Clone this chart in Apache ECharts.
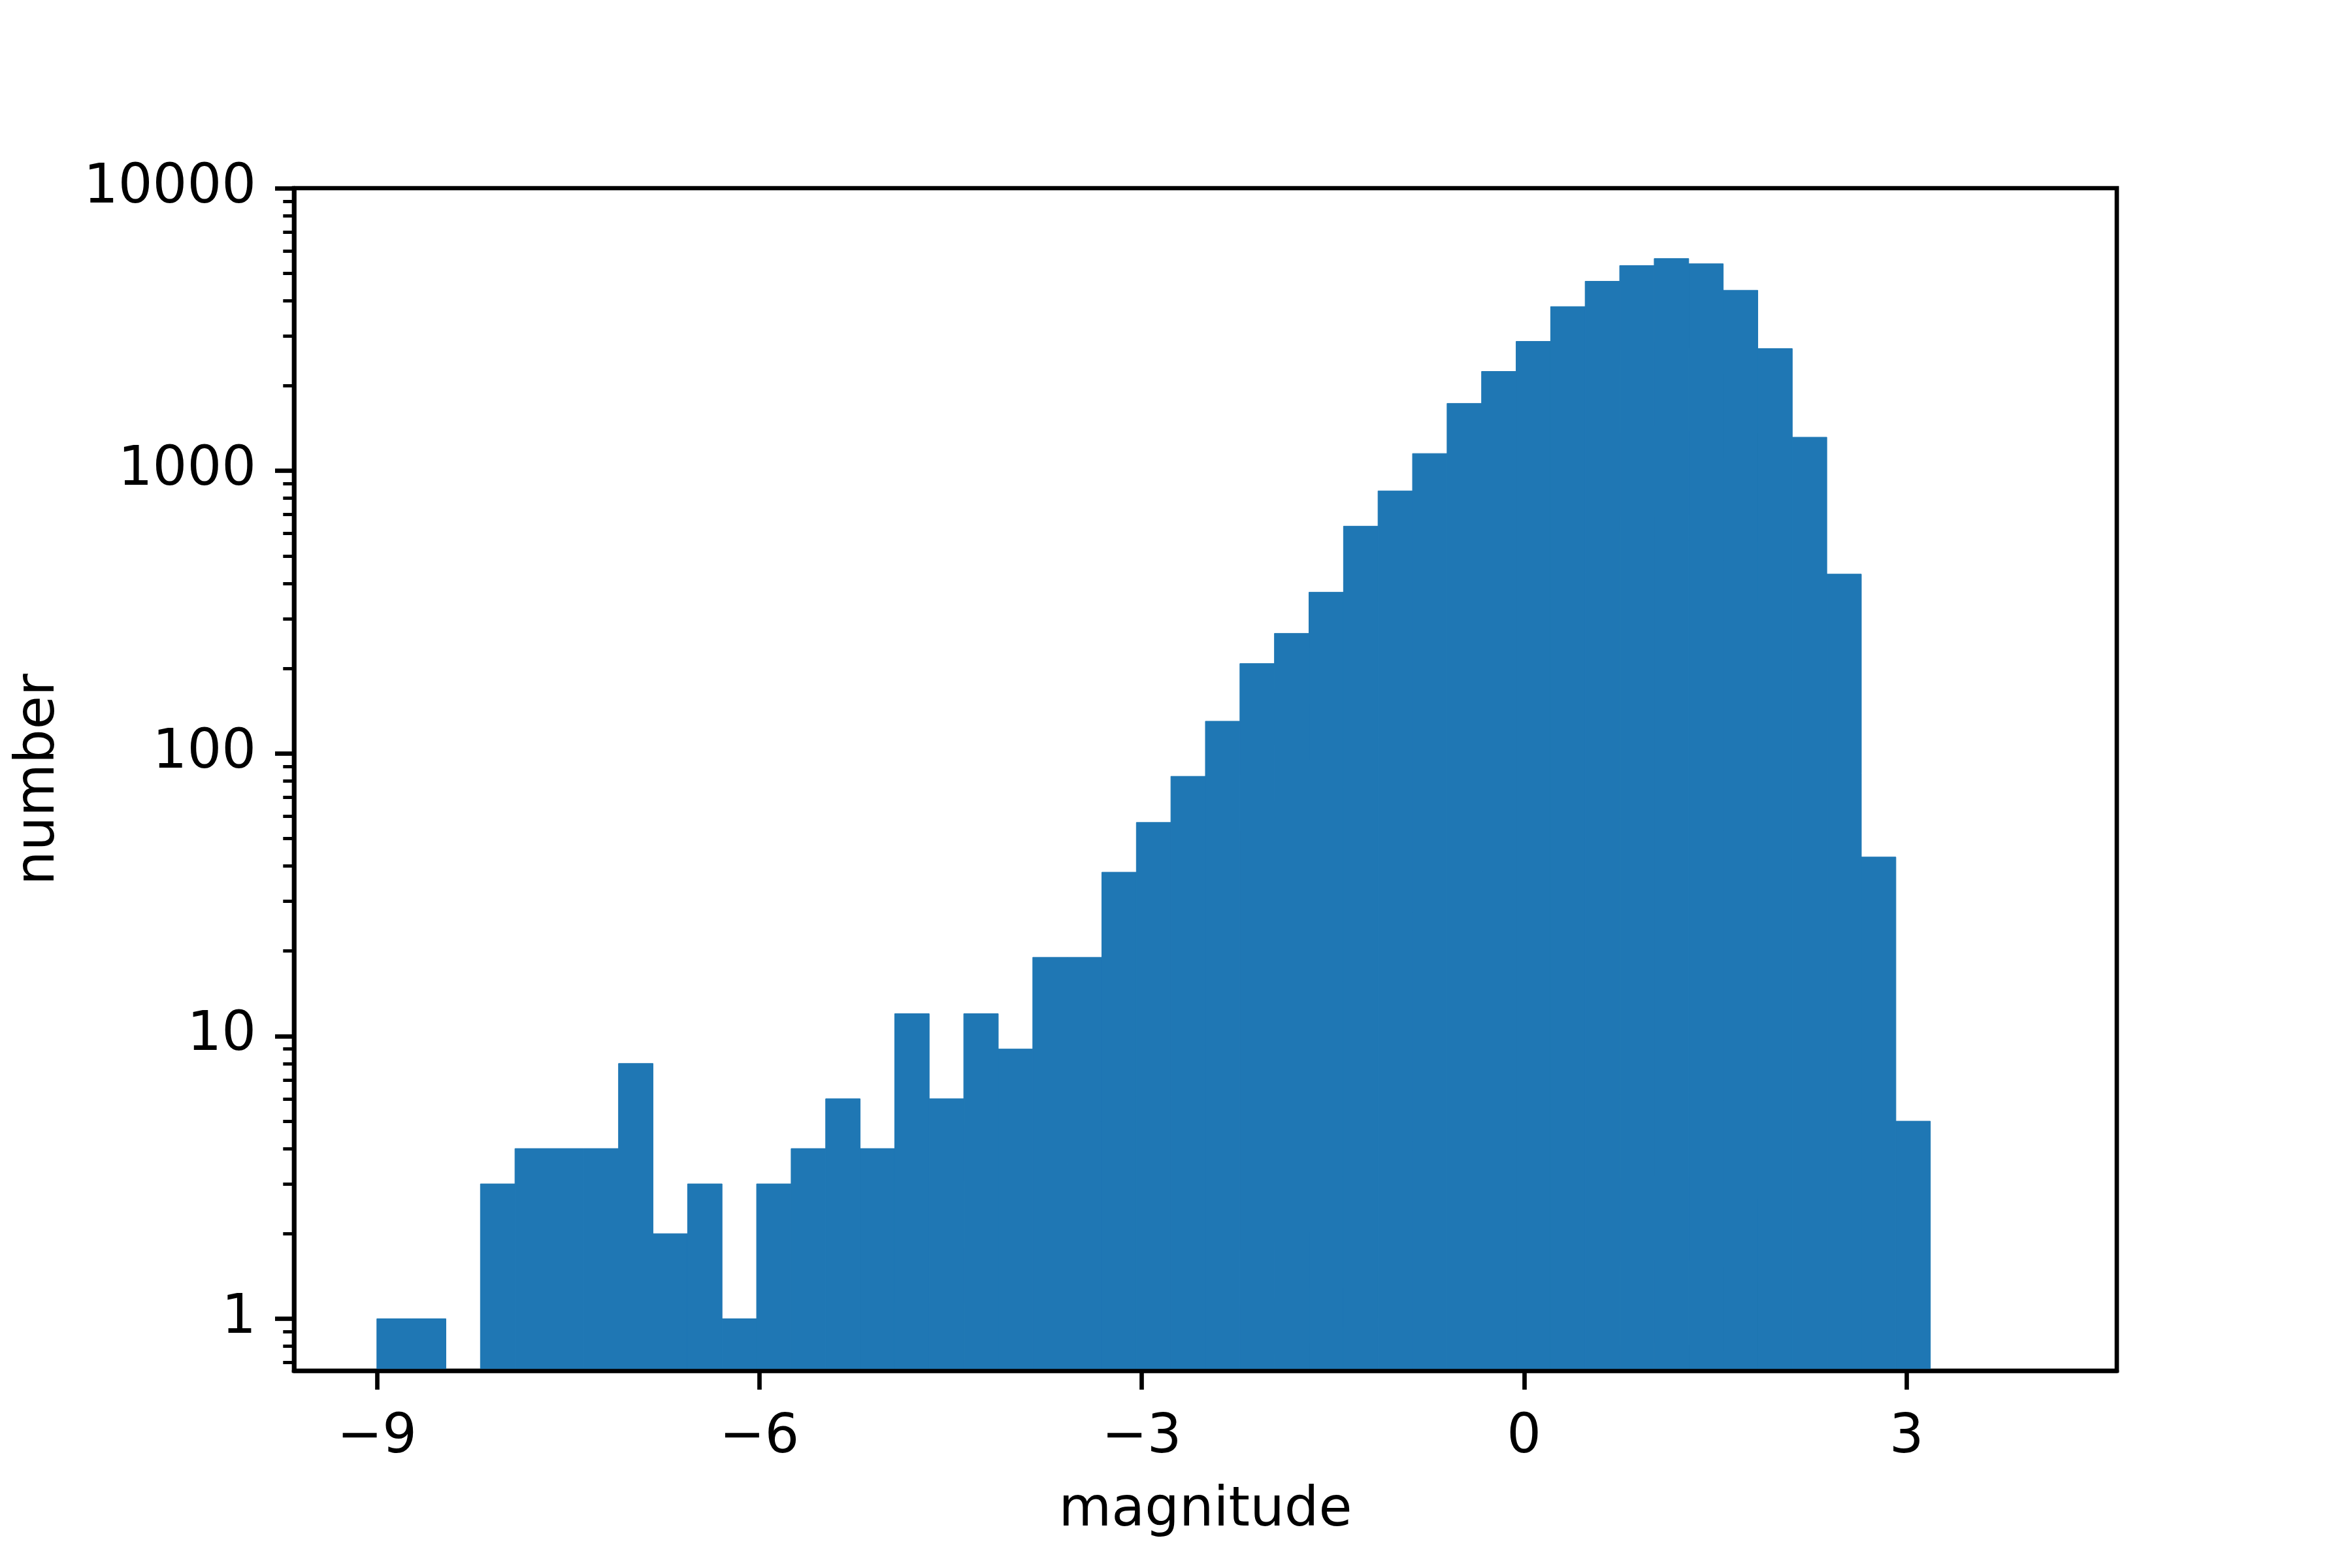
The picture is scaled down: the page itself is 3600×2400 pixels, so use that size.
<!DOCTYPE html>
<html>
<head>
<meta charset="utf-8">
<title>magnitude histogram</title>
<script src="https://cdn.jsdelivr.net/npm/echarts@6/dist/echarts.min.js"></script>
<style>
  html, body { margin: 0; padding: 0; background: #ffffff; }
  #chart { width: 3600px; height: 2400px; }
</style>
</head>
<body>
<div id="chart"></div>
<script>
// histogram bins: regular grid starting at -9, 48 bins over [-9, 4]
const binStart = -9
const binWidth = 13 / 48

// counts per bin
const counts = [
  1, 1, 0, 3, 4, 4, 4, 8, 2, 3,
  1, 3, 4, 6, 4, 12, 6, 12, 9, 19,
  19, 38, 57, 83, 130, 208, 266, 372, 637, 849,
  1151, 1732, 2247, 2870, 3810, 4683, 5323, 5636, 5401, 4352,
  2706, 1315, 431, 43, 5
]

const xTicks = [-9, -6, -3, 0, 3]
const yMajorTicks = [1, 10, 100, 1000, 10000]
const yMinorTicks = [
  0.7, 0.8, 0.9,
  2, 3, 4, 5, 6, 7, 8, 9,
  20, 30, 40, 50, 60, 70, 80, 90,
  200, 300, 400, 500, 600, 700, 800, 900,
  2000, 3000, 4000, 5000, 6000, 7000, 8000, 9000
]

const xMin = -9.65
const xMax = 4.65
const yMin = 0.655
const yMax = 10000

const barColor = '#1f77b4'
const fontFamily = '"DejaVu Sans", sans-serif'
const fontSize = 83

const bins = counts.map((n, i) => [binStart + i * binWidth, binStart + (i + 1) * binWidth, n])

const chart = echarts.init(document.getElementById('chart'), null, { renderer: 'canvas' })

const minusSign = (v) => (v < 0 ? '\u2212' + Math.abs(v) : String(v))

chart.setOption({
  animation: false,
  backgroundColor: '#ffffff',
  textStyle: { fontFamily },
  grid: {
    left: 450,
    top: 288,
    width: 2790,
    height: 1810,
    show: true,
    borderColor: '#000000',
    borderWidth: 6.67,
    backgroundColor: 'transparent'
  },
  xAxis: {
    type: 'value',
    min: xMin,
    max: xMax,
    z: 10,
    name: 'magnitude',
    nameLocation: 'middle',
    nameGap: 174,
    nameTextStyle: { color: '#000000', fontSize, fontFamily },
    axisLine: { show: true, onZero: false, lineStyle: { color: '#000000', width: 6.67 } },
    axisTick: {
      show: true,
      customValues: xTicks,
      length: 29,
      lineStyle: { color: '#000000', width: 6.67 }
    },
    axisLabel: {
      customValues: xTicks,
      margin: 62,
      color: '#000000',
      fontSize,
      fontFamily,
      formatter: minusSign
    },
    splitLine: { show: false }
  },
  yAxis: [
    {
      type: 'log',
      logBase: 10,
      min: yMin,
      max: yMax,
      position: 'left',
      z: 10,
      name: 'number',
      nameLocation: 'middle',
      nameGap: 348,
      nameRotate: 90,
      nameTextStyle: { color: '#000000', fontSize, fontFamily },
      axisLine: { show: true, onZero: false, lineStyle: { color: '#000000', width: 6.67 } },
      axisTick: {
        show: true,
        customValues: yMajorTicks,
        length: 29,
        lineStyle: { color: '#000000', width: 6.67 }
      },
      axisLabel: {
        customValues: yMajorTicks,
        margin: 58,
        padding: [24, 0, 0, 0],
        color: '#000000',
        fontSize,
        fontFamily,
        formatter: (v) => String(Math.round(v))
      },
      splitLine: { show: false }
    },
    {
      type: 'log',
      logBase: 10,
      min: yMin,
      max: yMax,
      position: 'left',
      z: 10,
      axisLine: { show: false, onZero: false },
      axisTick: {
        show: true,
        customValues: yMinorTicks,
        length: 16.7,
        lineStyle: { color: '#000000', width: 5 }
      },
      axisLabel: { show: false },
      splitLine: { show: false }
    }
  ],
  series: [
    {
      type: 'custom',
      clip: true,
      xAxisIndex: 0,
      yAxisIndex: 0,
      encode: { x: [0, 1], y: 2 },
      data: bins.filter((b) => b[2] > 0),
      renderItem(params, api) {
        const top = api.coord([api.value(0), api.value(2)])
        const bottom = api.coord([api.value(1), yMin])
        return {
          type: 'rect',
          shape: {
            x: top[0],
            y: top[1],
            width: bottom[0] - top[0],
            height: bottom[1] - top[1]
          },
          style: { fill: barColor, stroke: barColor, lineWidth: 1 }
        }
      }
    }
  ]
})
</script>
</body>
</html>
